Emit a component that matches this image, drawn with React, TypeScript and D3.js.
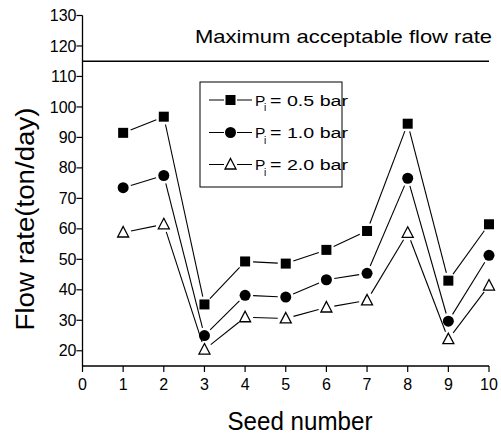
import React from "react";
import * as d3 from "d3";

const seeds = [1, 2, 3, 4, 5, 6, 7, 8, 9, 10];
const p05 = [91.5, 96.8, 35.2, 49.3, 48.6, 53.1, 59.3, 94.5, 43.0, 61.5];
const p10 = [73.5, 77.5, 25.0, 38.2, 37.6, 43.3, 45.4, 76.6, 29.7, 51.3];
const p20 = [58.8, 61.5, 20.4, 31.0, 30.6, 34.2, 36.5, 58.7, 23.8, 41.4];
const seriesLabels = ["0.5 bar", "1.0 bar", "2.0 bar"];
const seriesShapes = ["square", "circle", "triangle"];
const xTicks = [0, 1, 2, 3, 4, 5, 6, 7, 8, 9, 10];
const yTicks = [20, 30, 40, 50, 60, 70, 80, 90, 100, 110, 120, 130];
const maxFlow = 115;
const maxLabel = "Maximum acceptable flow rate";
const xLabel = "Seed number";
const yLabel = "Flow rate(ton/day)";

const FONT = "'Liberation Sans', Arial, Helvetica, sans-serif";

function Marker({ shape, x, y }: { shape: string; x: number; y: number }) {
  if (shape === "square") {
    return <rect x={x - 5} y={y - 5} width={10} height={10} fill="#000" />;
  }
  if (shape === "circle") {
    return <circle cx={x} cy={y} r={5.5} fill="#000" />;
  }
  const p = d3.path();
  p.moveTo(x, y - 6);
  p.lineTo(x + 5.5, y + 4.5);
  p.lineTo(x - 5.5, y + 4.5);
  p.closePath();
  return <path d={p.toString()} fill="#fff" stroke="#000" strokeWidth={1.3} />;
}

export default function App() {
  const W = 501;
  const H = 438;
  const x = d3.scaleLinear().domain([0, 10]).range([82.5, 489]);
  const y = d3.scaleLinear().domain([15, 130]).range([366, 15.5]);
  const series = [p05, p10, p20];

  const gap = 8;
  const segs = (vals: number[]) => {
    const out: string[] = [];
    for (let i = 0; i < vals.length - 1; i++) {
      const x1 = x(seeds[i]), y1 = y(vals[i]);
      const x2 = x(seeds[i + 1]), y2 = y(vals[i + 1]);
      const dx = x2 - x1, dy = y2 - y1;
      const len = Math.hypot(dx, dy);
      const ux = dx / len, uy = dy / len;
      const p = d3.path();
      p.moveTo(x1 + ux * gap, y1 + uy * gap);
      p.lineTo(x2 - ux * gap, y2 - uy * gap);
      out.push(p.toString());
    }
    return out;
  };

  const legX = 200, legY = 82, legW = 142, legH = 105;
  const legRows = [100, 132.5, 164.5];

  return (
    <svg width={W} height={H} style={{ position: "absolute", left: 0, top: 0, background: "#fff" }} fontFamily={FONT} fill="#000">
      <rect x={0} y={0} width={W} height={H} fill="#fff" />
      {/* axes */}
      <line x1={x(0)} x2={x(0)} y1={y(15)} y2={y(130)} stroke="#000" strokeWidth={1.3} />
      <line x1={x(0)} x2={x(10)} y1={y(15)} y2={y(15)} stroke="#000" strokeWidth={1.3} />
      {yTicks.map((t) => (
        <g key={"y" + t}>
          <line x1={x(0) - 6} x2={x(0)} y1={y(t)} y2={y(t)} stroke="#000" strokeWidth={1.2} />
          <text x={x(0) - 6} y={y(t)} dy="0.35em" textAnchor="end" fontSize={16} fill="#000">{t}</text>
        </g>
      ))}
      {xTicks.map((t) => (
        <g key={"x" + t}>
          <line x1={x(t)} x2={x(t)} y1={y(15)} y2={y(15) + 6} stroke="#000" strokeWidth={1.2} />
          <text x={x(t)} y={390} textAnchor="middle" fontSize={16} fill="#000">{t}</text>
        </g>
      ))}
      <text x={300} y={430} textAnchor="middle" fontSize={25} textLength={145} lengthAdjust="spacingAndGlyphs" fill="#000">{xLabel}</text>
      <text transform={`translate(34,219) rotate(-90)`} textAnchor="middle" fontSize={25} textLength={223} lengthAdjust="spacingAndGlyphs" fill="#000">{yLabel}</text>
      {/* max line */}
      <line x1={x(0)} x2={x(10)} y1={y(maxFlow)} y2={y(maxFlow)} stroke="#000" strokeWidth={1.6} />
      <text x={195} y={43} fontSize={18.5} textLength={297} lengthAdjust="spacingAndGlyphs" fill="#000">{maxLabel}</text>
      {/* series */}
      {series.map((vals, si) => (
        <g key={"s" + si}>
          {segs(vals).map((d, i) => (
            <path key={i} d={d} stroke="#000" strokeWidth={1.1} fill="none" />
          ))}
          {vals.map((v, i) => (
            <Marker key={i} shape={seriesShapes[si]} x={x(seeds[i])} y={y(v)} />
          ))}
        </g>
      ))}
      {/* legend */}
      <rect x={legX} y={legY} width={legW} height={legH} fill="#fff" stroke="#000" strokeWidth={1} />
      {seriesLabels.map((lab, i) => (
        <g key={"l" + i}>
          <line x1={209} x2={224} y1={legRows[i]} y2={legRows[i]} stroke="#000" strokeWidth={1} />
          <line x1={237} x2={252} y1={legRows[i]} y2={legRows[i]} stroke="#000" strokeWidth={1} />
          <Marker shape={seriesShapes[i]} x={230.5} y={legRows[i]} />
          <text x={255} y={legRows[i] + 5.5} fontSize={15.5} fill="#000">P</text>
          <text x={264} y={legRows[i] + 11} fontSize={10} fill="#000">i</text>
          <text x={270} y={legRows[i] + 5.5} fontSize={15.5} textLength={78} lengthAdjust="spacingAndGlyphs" fill="#000">{"= " + lab}</text>
        </g>
      ))}
    </svg>
  );
}
